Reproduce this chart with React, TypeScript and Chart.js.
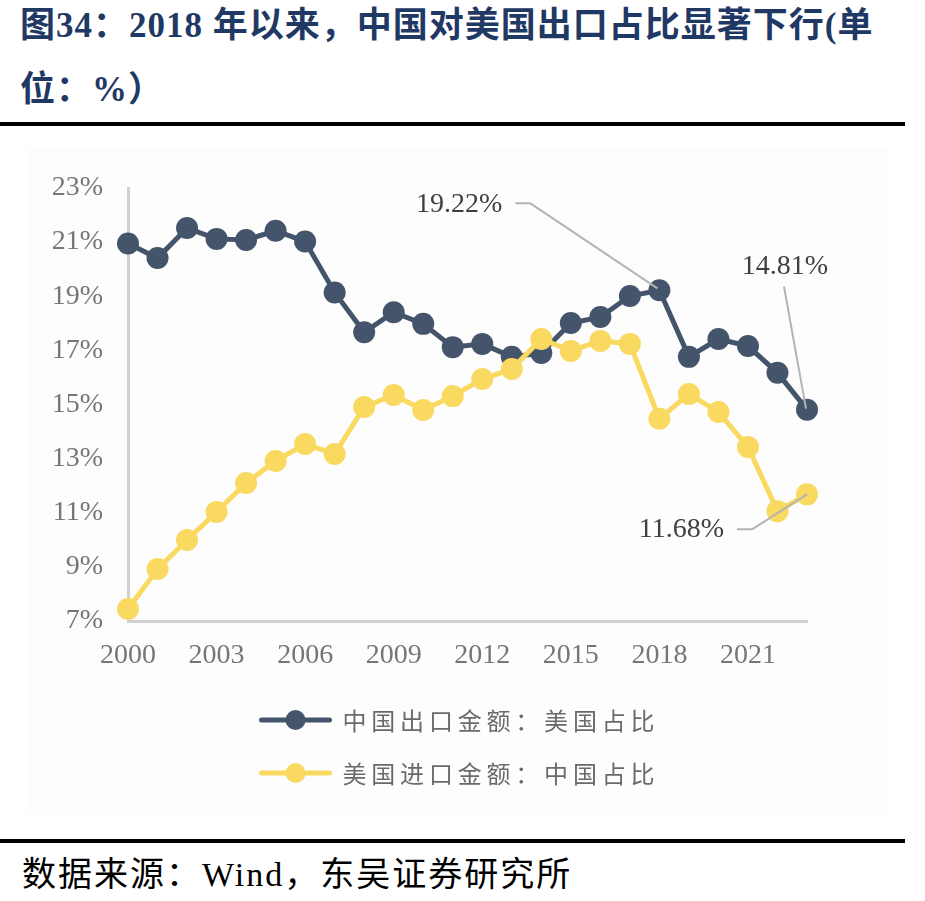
import React, { useEffect, useRef } from "react";
import { Chart, registerables } from "chart.js";

Chart.register(...registerables);

// ---------- data ----------
const years = [
  "2000", "2001", "2002", "2003", "2004", "2005", "2006", "2007", "2008", "2009", "2010", "2011",
  "2012", "2013", "2014", "2015", "2016", "2017", "2018", "2019", "2020", "2021", "2022", "2023",
];
const xTickLabels = ["2000", "2003", "2006", "2009", "2012", "2015", "2018", "2021"];
const yMin = 7;
const yMax = 23;
const yStep = 2;

const exportLabel = "中国出口金额：美国占比";
const importLabel = "美国进口金额：中国占比";

const chinaExportUSShare = [
  20.95, 20.41, 21.52, 21.12, 21.08, 21.42, 21.02, 19.14, 17.67, 18.41, 17.98, 17.12,
  17.24, 16.76, 16.9, 18.01, 18.23, 19.01, 19.22, 16.76, 17.42, 17.16, 16.17, 14.81,
];
const usImportChinaShare = [
  7.44, 8.92, 9.99, 11.03, 12.1, 12.91, 13.54, 13.17, 14.91, 15.35, 14.8, 15.31,
  15.94, 16.31, 17.42, 16.98, 17.35, 17.24, 14.47, 15.39, 14.72, 13.43, 11.06, 11.68,
];

// callouts: which dataset / point gets a labelled leader line
const calloutPoints = [
  { dataset: 0, year: "2018" },
  { dataset: 0, year: "2023" },
  { dataset: 1, year: "2023" },
];

// ---------- styles ----------
const DARK = "#44546A";
const YELLOW = "#F9D960";
const AXIS = "#D0D0D0";
const TICK = "#767676";
const SERIF = '"Liberation Serif", "Times New Roman", serif';
const CJK = '"Noto Sans CJK SC", "Noto Sans", sans-serif';

// offsets (relative to the data point) for each callout, in the same order as calloutPoints
const calloutStyle = [
  { tx: -157, ty: -86, align: "right", leader: [[-144, -87], [-129, -87], [-2, -2]] },
  { tx: -22, ty: -143, align: "center", leader: [[-23, -123], [-1, -1]] },
  { tx: -83, ty: 35, align: "right", leader: [[-70, 35], [-55, 35], [0, 0]] },
];

const calloutPlugin = {
  id: "callouts",
  afterDatasetsDraw(chart: any) {
    const ctx = chart.ctx;
    calloutPoints.forEach((c, i) => {
      const st = calloutStyle[i];
      const idx = years.indexOf(c.year);
      const meta = chart.getDatasetMeta(c.dataset);
      const pt = meta.data[idx];
      if (!pt) return;
      const value = chart.data.datasets[c.dataset].data[idx] as number;
      const px = pt.x;
      const py = pt.y;
      ctx.save();
      ctx.strokeStyle = "#B4B4B4";
      ctx.lineWidth = 2;
      ctx.lineJoin = "round";
      ctx.beginPath();
      st.leader.forEach(([dx, dy], k) => {
        if (k === 0) ctx.moveTo(px + dx, py + dy);
        else ctx.lineTo(px + dx, py + dy);
      });
      ctx.stroke();
      ctx.font = `28px ${SERIF}`;
      ctx.fillStyle = "#404040";
      ctx.textAlign = st.align;
      ctx.textBaseline = "middle";
      ctx.fillText(value.toFixed(2) + "%", px + st.tx, py + st.ty);
      ctx.restore();
    });
  },
};

const legendPlugin = {
  id: "customLegend",
  afterDraw(chart: any) {
    const ctx = chart.ctx;
    const cx = chart.width / 2 - 3;
    const pitch = 28.8;
    const glyph = 23;
    const lineW = 74;
    const gap = 10;
    chart.data.datasets.forEach((ds: any, i: number) => {
      const chars = Array.from(ds.label as string);
      const textW = (chars.length - 1) * pitch + glyph;
      const total = lineW + gap + textW;
      const x0 = cx - total / 2;
      const y = chart.chartArea.bottom + 99 + i * 53;
      ctx.save();
      ctx.strokeStyle = ds.borderColor;
      ctx.lineWidth = 5;
      ctx.lineCap = "round";
      ctx.beginPath();
      ctx.moveTo(x0 + 3, y);
      ctx.lineTo(x0 + lineW - 3, y);
      ctx.stroke();
      ctx.fillStyle = ds.pointBackgroundColor;
      ctx.beginPath();
      ctx.arc(x0 + lineW / 2, y, 10, 0, Math.PI * 2);
      ctx.fill();
      ctx.font = `24px ${CJK}`;
      ctx.fillStyle = "#6A6A6A";
      ctx.textAlign = "left";
      ctx.textBaseline = "middle";
      chars.forEach((ch, k) => {
        ctx.fillText(ch, x0 + lineW + gap + k * pitch, y + 1);
      });
      ctx.restore();
    });
  },
};

function LineChart() {
  const ref = useRef<HTMLCanvasElement | null>(null);
  useEffect(() => {
    if (!ref.current) return;
    const chart = new Chart(ref.current, {
      type: "line",
      data: {
        labels: years,
        datasets: [
          {
            label: exportLabel,
            data: chinaExportUSShare,
            borderColor: DARK,
            backgroundColor: DARK,
            pointBackgroundColor: DARK,
            pointBorderColor: DARK,
            borderWidth: 5,
            pointRadius: 11,
            pointBorderWidth: 0,
            pointHoverRadius: 11,
            tension: 0,
            clip: false,
            order: 1,
          },
          {
            label: importLabel,
            data: usImportChinaShare,
            borderColor: YELLOW,
            backgroundColor: YELLOW,
            pointBackgroundColor: YELLOW,
            pointBorderColor: YELLOW,
            borderWidth: 5,
            pointRadius: 11,
            pointBorderWidth: 0,
            pointHoverRadius: 11,
            tension: 0,
            clip: false,
            order: 0,
          },
        ],
      } as any,
      options: {
        responsive: false,
        animation: false,
        maintainAspectRatio: false,
        layout: { padding: { top: 48, right: 86, left: 0, bottom: 134 } },
        plugins: {
          legend: { display: false },
          tooltip: { enabled: false },
          title: { display: false },
        },
        scales: {
          x: {
            type: "category",
            offset: false,
            grid: { display: false, drawTicks: false },
            border: { display: true, color: AXIS, width: 3 },
            ticks: {
              autoSkip: false,
              maxRotation: 0,
              padding: 18,
              color: TICK,
              font: { family: SERIF, size: 28 },
              callback: function (this: any, v: any) {
                const l = this.getLabelForValue(v);
                return xTickLabels.includes(l) ? l : null;
              },
            },
            afterFit: (s: any) => {
              s.height = 60;
            },
          },
          y: {
            min: yMin,
            max: yMax,
            grid: { display: false, drawTicks: false },
            border: { display: true, color: AXIS, width: 3 },
            ticks: {
              stepSize: yStep,
              padding: 25,
              color: TICK,
              font: { family: SERIF, size: 28 },
              callback: (v: any) => v + "%",
            },
            afterFit: (s: any) => {
              s.width = 103;
            },
          },
        },
      } as any,
      plugins: [calloutPlugin, legendPlugin],
    });
    return () => chart.destroy();
  }, []);
  return <canvas ref={ref} width={868} height={675} style={{ display: "block" }} />;
}

export default function App() {
  const titleStyle: React.CSSProperties = {
    position: "absolute",
    left: 20,
    fontFamily: `"Liberation Serif", "Noto Sans CJK SC", serif`,
    fontWeight: 700,
    fontSize: 35,
    lineHeight: "40px",
    color: "#1F3864",
    whiteSpace: "nowrap",
    letterSpacing: "1px",
  };
  return (
    <div
      style={{
        position: "absolute",
        left: 0,
        top: 0,
        width: 925,
        height: 901,
        background: "#FFFFFF",
        overflow: "hidden",
      }}
    >
      <div style={{ ...titleStyle, top: 6 }}>图34：2018 年以来，中国对美国出口占比显著下行(单</div>
      <div style={{ ...titleStyle, top: 70 }}>位：%）</div>
      <div style={{ position: "absolute", left: 0, top: 122, width: 905, height: 4, background: "#000" }} />
      <div style={{ position: "absolute", left: 27, top: 148, width: 862, height: 667, background: "#FDFDFD" }} />
      <div style={{ position: "absolute", left: 25, top: 140, width: 868, height: 675 }}>
        <LineChart />
      </div>
      <div style={{ position: "absolute", left: 0, top: 839, width: 905, height: 4, background: "#000" }} />
      <div
        style={{
          position: "absolute",
          left: 22,
          top: 855,
          fontFamily: `"Liberation Serif", "Noto Sans CJK SC", serif`,
          fontSize: 34,
          lineHeight: "40px",
          color: "#000",
          whiteSpace: "nowrap",
          letterSpacing: "2px",
        }}
      >
        数据来源：Wind，东吴证券研究所
      </div>
    </div>
  );
}
